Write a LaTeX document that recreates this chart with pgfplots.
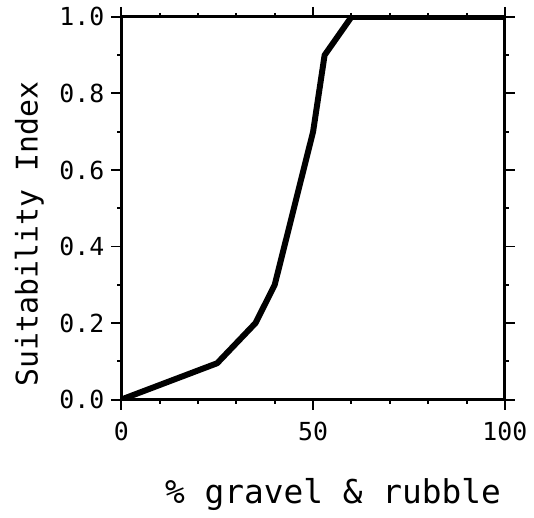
\documentclass[border=0pt]{standalone}
\usepackage{fontspec}
\setmainfont{DejaVu Sans Mono}
\usepackage{pgfplots}
\pgfplotsset{compat=1.18}
\begin{document}
\begin{tikzpicture}
\begin{axis}[
  scale only axis,
  width=193pt, height=192.5pt,
  xmin=0, xmax=100, ymin=0, ymax=1,
  xtick={0,50,100}, ytick={0,0.2,0.4,0.6,0.8,1.0},
  minor x tick num=4, minor y tick num=1,
  tick align=outside,
  major tick length=5pt, minor tick length=2pt,
  every tick/.style={black, line width=1pt},
  axis line style={line width=1.5pt},
  /pgf/number format/assume math mode=true,
  yticklabel style={/pgf/number format/fixed, /pgf/number format/fixed zerofill, /pgf/number format/precision=1},
  ticklabel style={font=\fontsize{12.5}{14}\selectfont},
  xticklabel style={yshift=-3pt},
  xlabel={\% gravel \& rubble},
  ylabel={Suitability Index},
  xlabel style={font=\fontsize{16.5}{19}\selectfont, yshift=-12pt, xshift=10pt},
  ylabel style={font=\fontsize{15}{18}\selectfont, xshift=-13pt, yshift=1pt},
]
\addplot[black, line width=3pt, line join=round] coordinates {
(0,0) (25,0.095) (35,0.2) (40,0.3) (50,0.7) (53,0.9) (60,1.0) (100,1.0)
};
\end{axis}
\path[use as bounding box] (-61pt,-50pt) rectangle (206pt,201pt);
\end{tikzpicture}
\end{document}
